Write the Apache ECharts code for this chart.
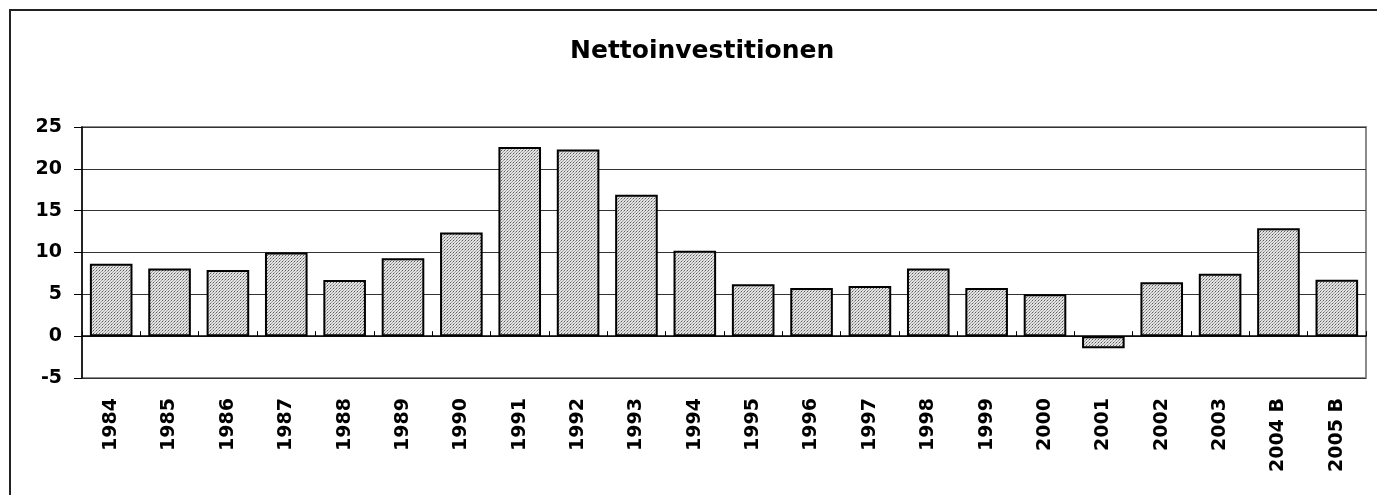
<!DOCTYPE html>
<html>
<head>
<meta charset="utf-8">
<script src="https://cdn.jsdelivr.net/npm/echarts@6/dist/echarts.min.js"></script>
<style>
  html, body { margin: 0; padding: 0; background: #fff; }
  #chart { width: 1377px; height: 495px; }
</style>
</head>
<body>
<div id="chart"></div>
<script>
// Jahre
const years = ['1984', '1985', '1986', '1987', '1988', '1989', '1990', '1991', '1992', '1993', '1994',
  '1995', '1996', '1997', '1998', '1999', '2000', '2001', '2002', '2003', '2004 B', '2005 B'];
// Nettoinvestitionen
const values = [8.65, 8.1, 7.9, 10.0, 6.7, 9.3, 12.4, 22.6, 22.3, 16.9, 10.2,
  6.2, 5.75, 6.0, 8.1, 5.75, 5.0, -1.43, 6.45, 7.45, 12.9, 6.75];

// Punktraster fuer die Balken
const tile = document.createElement('canvas');
tile.width = 3;
tile.height = 3;
const ctx = tile.getContext('2d');
ctx.fillStyle = '#e2e2e2';
ctx.fillRect(0, 0, 3, 3);
ctx.fillStyle = '#5a5a5a';
ctx.fillRect(0, 0, 1, 1);
ctx.fillStyle = '#a0a0a0';
ctx.fillRect(1, 2, 1, 1);
ctx.fillRect(2, 1, 1, 1);

const font = 'DejaVu Sans';

const chart = echarts.init(document.getElementById('chart'));
const option = {
  animation: false,
  backgroundColor: '#fff',
  title: {
    text: 'Nettoinvestitionen',
    left: 565,
    top: 34,
    textStyle: { fontFamily: font, fontWeight: 'bold', fontSize: 25, color: '#000' }
  },
  graphic: [
    {
      type: 'rect',
      shape: { x: 10, y: 10, width: 1380, height: 500 },
      style: { fill: 'none', stroke: '#222', lineWidth: 2 },
      silent: true
    }
  ],
  grid: {
    left: 82,
    right: 11,
    top: 127,
    bottom: 117,
    show: true,
    borderColor: '#8a8a8a',
    borderWidth: 2,
    containLabel: false,
    outerBoundsMode: 'none'
  },
  xAxis: {
    type: 'category',
    data: years,
    axisLine: { onZero: true, lineStyle: { color: '#000', width: 1.5 } },
    axisTick: { show: true, inside: true, length: 5, lineStyle: { color: '#000' } },
    axisLabel: {
      rotate: 90,
      margin: 20,
      interval: 0,
      fontFamily: font,
      fontWeight: 'bold',
      fontSize: 19,
      color: '#000'
    },
    splitLine: { show: false }
  },
  yAxis: {
    type: 'value',
    min: -5,
    max: 25,
    interval: 5,
    axisLine: { show: true, lineStyle: { color: '#000', width: 1.5 } },
    axisTick: { show: true, length: 8, lineStyle: { color: '#000' } },
    axisLabel: {
      margin: 20,
      fontFamily: font,
      fontWeight: 'bold',
      fontSize: 19,
      color: '#000'
    },
    splitLine: { show: true, lineStyle: { color: '#333', width: 1 } }
  },
  series: [
    {
      type: 'bar',
      data: values,
      barCategoryGap: '27%',
      itemStyle: {
        color: { image: tile, repeat: 'repeat' },
        borderColor: '#000',
        borderWidth: 2
      }
    }
  ]
};
chart.setOption(option);
</script>
</body>
</html>
